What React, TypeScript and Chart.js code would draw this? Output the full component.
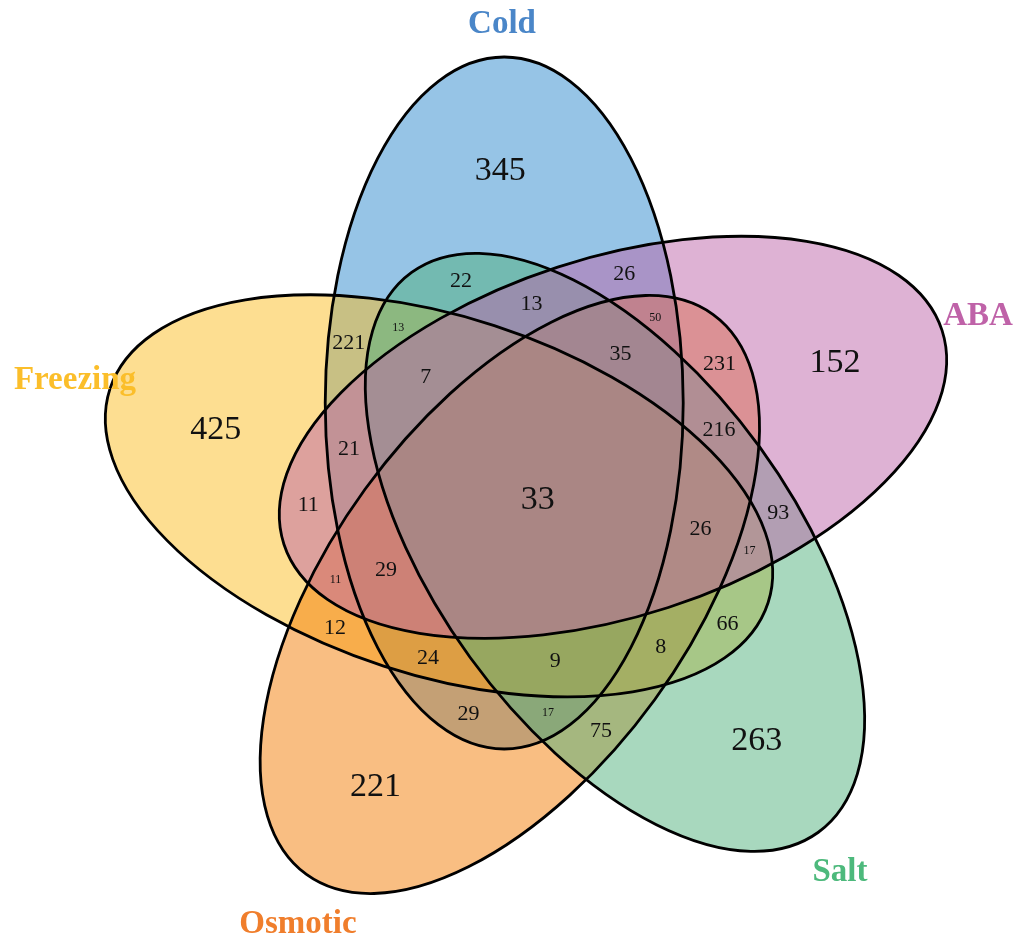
import React, { useEffect, useRef } from 'react';
import { Chart, registerables } from 'chart.js';

Chart.register(...registerables);

// ---------- data ----------
const setNames = ['Cold', 'ABA', 'Salt', 'Osmotic', 'Freezing'];
const setKeys = ['C', 'A', 'S', 'O', 'F'];

// region membership (letters = sets) and the gene counts of each region
const regionKeys = [
  'C', 'A', 'S', 'O', 'F',
  'CS', 'CA', 'CF', 'AO', 'FA', 'AS', 'FO', 'SF', 'CO', 'OS',
  'CAS', 'CAO', 'CFS', 'ASO', 'CFA', 'ASF', 'FAO', 'SFO', 'CFO', 'COS',
  'CASO', 'CFSA', 'ASOF', 'CFAO', 'CFOS',
  'CASOF',
];
const regionCounts = [
  345, 152, 263, 221, 425,
  22, 26, 221, 231, 11, 93, 12, 66, 29, 75,
  13, 50, 13, 216, 21, 17, 11, 8, 24, 17,
  35, 7, 26, 29, 9,
  33,
];
// label size tier of each region (L = large, M = medium, S = small)
const regionTier = [
  'L', 'L', 'L', 'L', 'L',
  'M', 'M', 'M', 'M', 'M', 'M', 'M', 'M', 'M', 'M',
  'M', 'S', 'S', 'M', 'M', 'S', 'S', 'M', 'M', 'S',
  'M', 'M', 'M', 'M', 'M',
  'L',
];

// ---------- styles / layout ----------
const fillColors = ['rgb(45,137,205)', 'rgb(189,101,169)', 'rgb(81,177,125)', 'rgb(243,125,5)', 'rgb(251,189,35)'];
const titleColors = ['#4A86C8', '#BF62A8', '#4DB97C', '#F07E2C', '#FBBE2A'];
const fillAlpha = 0.5;
const drawOrder = [0, 4, 3, 2, 1]; // Cold, Freezing, Osmotic, Salt, ABA
// title anchor (baseline centre) in chart units
const titleAnchors = [
  { x: -33, y: 462 },
  { x: 443, y: 170 },
  { x: 305, y: -386 },
  { x: -237, y: -438 },
  { x: -460, y: 106 },
];
const tierSize: Record<string, number> = { L: 34, M: 22, S: 12 };
// how far a label moves from the region centroid toward its deepest point
const tierPull: Record<string, number> = { L: 0.5, M: 0, S: 0 };

// ellipse geometry: five equal ellipses turned by 72 degrees about the centre
const GEOM = { dist: 97, semiMajor: 346, semiMinor: 179, firstOffsetDeg: 108.5, firstAxisDeg: 90, stepDeg: -72 };
const centerNudge = [
  { x: 0, y: 0 },
  { x: 0, y: 0 },
  { x: 1, y: -1 },
  { x: 4, y: -7 },
  { x: 1, y: 0 },
];
const X_RANGE = { min: -535, max: 479 };
const Y_RANGE = { min: -443, max: 495 };

const ellipses = setKeys.map((_, k) => {
  const off = ((GEOM.firstOffsetDeg + GEOM.stepDeg * k) * Math.PI) / 180;
  const ax = ((GEOM.firstAxisDeg + GEOM.stepDeg * k) * Math.PI) / 180;
  return {
    cx: GEOM.dist * Math.cos(off) + centerNudge[k].x,
    cy: GEOM.dist * Math.sin(off) + centerNudge[k].y,
    a: GEOM.semiMajor,
    b: GEOM.semiMinor,
    rot: ax,
    cos: Math.cos(ax),
    sin: Math.sin(ax),
  };
});

function inside(e: any, X: number, Y: number) {
  const dx = X - e.cx;
  const dy = Y - e.cy;
  const u = dx * e.cos + dy * e.sin;
  const v = -dx * e.sin + dy * e.cos;
  return (u * u) / (e.a * e.a) + (v * v) / (e.b * e.b) <= 1;
}

function keyToMask(key: string) {
  let m = 0;
  for (const ch of key) m |= 1 << setKeys.indexOf(ch);
  return m;
}

// label point of every region from the geometry: centroid, pulled toward the deepest point
function regionLabelPoints() {
  const step = 1.5;
  const W = Math.floor((X_RANGE.max - X_RANGE.min) / step) + 1;
  const H = Math.floor((Y_RANGE.max - Y_RANGE.min) / step) + 1;
  const mask = new Int8Array(W * H);
  const cen = new Map<number, { sx: number; sy: number; n: number }>();
  for (let j = 0; j < H; j++) {
    const Y = Y_RANGE.min + j * step;
    for (let i = 0; i < W; i++) {
      const X = X_RANGE.min + i * step;
      let m = 0;
      for (let k = 0; k < ellipses.length; k++) if (inside(ellipses[k], X, Y)) m |= 1 << k;
      mask[j * W + i] = m;
      if (m) {
        let s = cen.get(m);
        if (!s) {
          s = { sx: 0, sy: 0, n: 0 };
          cen.set(m, s);
        }
        s.sx += X;
        s.sy += Y;
        s.n++;
      }
    }
  }
  const INF = 1e9;
  const dist = new Float32Array(W * H);
  for (let j = 0; j < H; j++) {
    for (let i = 0; i < W; i++) {
      const p = j * W + i;
      const m = mask[p];
      let edge = false;
      if (i > 0 && mask[p - 1] !== m) edge = true;
      else if (i < W - 1 && mask[p + 1] !== m) edge = true;
      else if (j > 0 && mask[p - W] !== m) edge = true;
      else if (j < H - 1 && mask[p + W] !== m) edge = true;
      dist[p] = edge ? 0 : INF;
    }
  }
  const D = Math.SQRT2;
  for (let j = 0; j < H; j++) {
    for (let i = 0; i < W; i++) {
      const p = j * W + i;
      let d = dist[p];
      if (i > 0) d = Math.min(d, dist[p - 1] + 1);
      if (j > 0) {
        d = Math.min(d, dist[p - W] + 1);
        if (i > 0) d = Math.min(d, dist[p - W - 1] + D);
        if (i < W - 1) d = Math.min(d, dist[p - W + 1] + D);
      }
      dist[p] = d;
    }
  }
  for (let j = H - 1; j >= 0; j--) {
    for (let i = W - 1; i >= 0; i--) {
      const p = j * W + i;
      let d = dist[p];
      if (i < W - 1) d = Math.min(d, dist[p + 1] + 1);
      if (j < H - 1) {
        d = Math.min(d, dist[p + W] + 1);
        if (i < W - 1) d = Math.min(d, dist[p + W + 1] + D);
        if (i > 0) d = Math.min(d, dist[p + W - 1] + D);
      }
      dist[p] = d;
    }
  }
  const best = new Map<number, number>();
  for (let p = 0; p < W * H; p++) {
    const m = mask[p];
    if (!m) continue;
    const b = best.get(m);
    if (b === undefined || dist[p] > b) best.set(m, dist[p]);
  }
  const pole = new Map<number, { sx: number; sy: number; n: number }>();
  for (let j = 0; j < H; j++) {
    for (let i = 0; i < W; i++) {
      const p = j * W + i;
      const m = mask[p];
      if (!m) continue;
      if (dist[p] >= (best.get(m) as number) - 0.5) {
        let s = pole.get(m);
        if (!s) {
          s = { sx: 0, sy: 0, n: 0 };
          pole.set(m, s);
        }
        s.sx += X_RANGE.min + i * step;
        s.sy += Y_RANGE.min + j * step;
        s.n++;
      }
    }
  }
  return regionKeys.map((key, r) => {
    const m = keyToMask(key);
    const c = cen.get(m);
    const q = pole.get(m);
    if (!c || !q) return { x: 0, y: 0 };
    const w = tierPull[regionTier[r]];
    const cx = c.sx / c.n;
    const cy = c.sy / c.n;
    return { x: cx + w * (q.sx / q.n - cx), y: cy + w * (q.sy / q.n - cy) };
  });
}

const vennPlugin = {
  id: 'vennEllipses',
  beforeDatasetsDraw(chart: any) {
    const { ctx, scales } = chart;
    const xs = scales.x;
    const ys = scales.y;
    const kx = xs.getPixelForValue(1) - xs.getPixelForValue(0);
    const ky = ys.getPixelForValue(0) - ys.getPixelForValue(1);
    ctx.save();
    ctx.globalAlpha = fillAlpha;
    for (const k of drawOrder) {
      const e = ellipses[k];
      ctx.beginPath();
      ctx.ellipse(xs.getPixelForValue(e.cx), ys.getPixelForValue(e.cy), e.a * kx, e.b * ky, -e.rot, 0, Math.PI * 2);
      ctx.fillStyle = fillColors[k];
      ctx.fill();
    }
    ctx.globalAlpha = 1;
    ctx.strokeStyle = '#000';
    ctx.lineWidth = 2.8;
    for (const k of drawOrder) {
      const e = ellipses[k];
      ctx.beginPath();
      ctx.ellipse(xs.getPixelForValue(e.cx), ys.getPixelForValue(e.cy), e.a * kx, e.b * ky, -e.rot, 0, Math.PI * 2);
      ctx.stroke();
    }
    ctx.restore();
  },
  afterDatasetsDraw(chart: any) {
    const { ctx, scales } = chart;
    const meta = chart.getDatasetMeta(0);
    ctx.save();
    ctx.textAlign = 'center';
    ctx.textBaseline = 'alphabetic';
    ctx.fillStyle = '#111';
    meta.data.forEach((pt: any, i: number) => {
      const size = tierSize[regionTier[i]];
      ctx.font = `${size}px "Liberation Serif", "Times New Roman", serif`;
      ctx.fillText(String(regionCounts[i]), pt.x, pt.y + size * 0.33);
    });
    ctx.font = 'bold 33px "Liberation Serif", "Times New Roman", serif';
    setNames.forEach((name, k) => {
      ctx.fillStyle = titleColors[k];
      ctx.fillText(name, scales.x.getPixelForValue(titleAnchors[k].x), scales.y.getPixelForValue(titleAnchors[k].y));
    });
    ctx.restore();
  },
};

export default function App() {
  const ref = useRef<HTMLCanvasElement>(null);
  useEffect(() => {
    const points = regionLabelPoints();
    const chart = new Chart(ref.current as HTMLCanvasElement, {
      type: 'scatter',
      data: {
        datasets: [
          {
            label: 'regions',
            data: points.map((c) => ({ x: c.x, y: c.y })),
            pointRadius: 0,
            pointHoverRadius: 0,
          },
        ],
      },
      options: {
        responsive: false,
        animation: false,
        events: [],
        layout: { padding: 0 },
        scales: {
          x: { type: 'linear', display: false, min: X_RANGE.min, max: X_RANGE.max },
          y: { type: 'linear', display: false, min: Y_RANGE.min, max: Y_RANGE.max },
        },
        plugins: { legend: { display: false }, tooltip: { enabled: false } },
      },
      plugins: [vennPlugin],
    });
    return () => chart.destroy();
  }, []);
  return (
    <div style={{ position: 'absolute', left: 0, top: 0, width: 1014, height: 938, background: '#fff' }}>
      <canvas ref={ref} width={1014} height={938} style={{ display: 'block', width: 1014, height: 938 }} />
    </div>
  );
}
